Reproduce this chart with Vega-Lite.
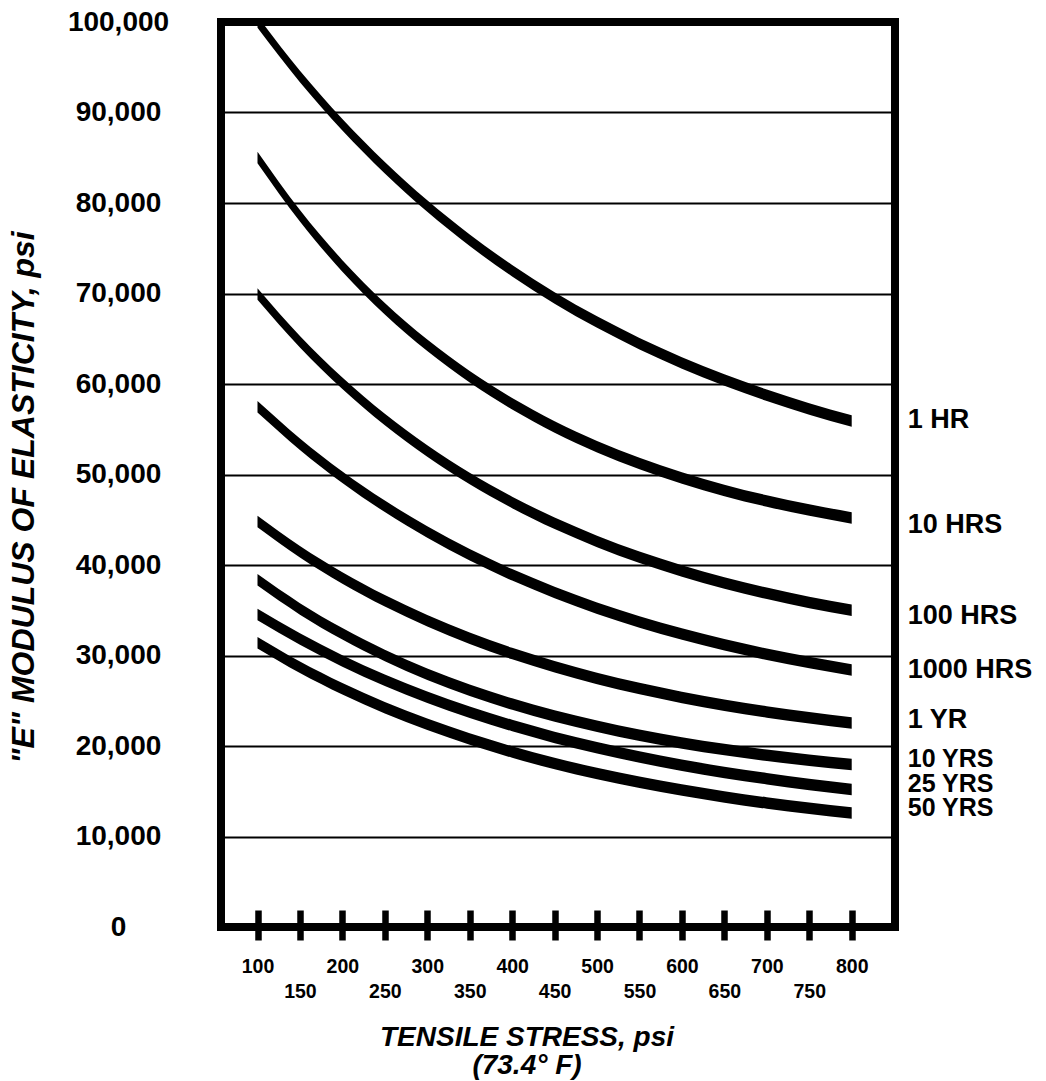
{
  "$schema": "https://vega.github.io/schema/vega-lite/v6.json",
  "width": 674,
  "height": 905,
  "autosize": {"type": "none"},
  "padding": {"left": 221, "top": 22, "right": 151, "bottom": 154},
  "background": "white",
  "config": {"view": {"stroke": "black", "strokeWidth": 8}, "font": "Liberation Sans"},
  "datasets": {
    "curves": [
      {"curve": "1 HR", "stress": 100, "E": 100000}, {"curve": "1 HR", "stress": 150, "E": 93980}, {"curve": "1 HR", "stress": 200, "E": 88650}, {"curve": "1 HR", "stress": 250, "E": 83900}, {"curve": "1 HR", "stress": 300, "E": 79660}, {"curve": "1 HR", "stress": 350, "E": 75880}, {"curve": "1 HR", "stress": 400, "E": 72520}, {"curve": "1 HR", "stress": 450, "E": 69510}, {"curve": "1 HR", "stress": 500, "E": 66840}, {"curve": "1 HR", "stress": 550, "E": 64450}, {"curve": "1 HR", "stress": 600, "E": 62330}, {"curve": "1 HR", "stress": 650, "E": 60440}, {"curve": "1 HR", "stress": 700, "E": 58750}, {"curve": "1 HR", "stress": 750, "E": 57250}, {"curve": "1 HR", "stress": 800, "E": 55900},
      {"curve": "10 HRS", "stress": 100, "E": 85040}, {"curve": "10 HRS", "stress": 150, "E": 78590}, {"curve": "10 HRS", "stress": 200, "E": 73050}, {"curve": "10 HRS", "stress": 250, "E": 68320}, {"curve": "10 HRS", "stress": 300, "E": 64270}, {"curve": "10 HRS", "stress": 350, "E": 60790}, {"curve": "10 HRS", "stress": 400, "E": 57810}, {"curve": "10 HRS", "stress": 450, "E": 55260}, {"curve": "10 HRS", "stress": 500, "E": 53080}, {"curve": "10 HRS", "stress": 550, "E": 51220}, {"curve": "10 HRS", "stress": 600, "E": 49620}, {"curve": "10 HRS", "stress": 650, "E": 48240}, {"curve": "10 HRS", "stress": 700, "E": 47070}, {"curve": "10 HRS", "stress": 750, "E": 46070}, {"curve": "10 HRS", "stress": 800, "E": 45200},
      {"curve": "100 HRS", "stress": 100, "E": 69950}, {"curve": "100 HRS", "stress": 150, "E": 64670}, {"curve": "100 HRS", "stress": 200, "E": 60080}, {"curve": "100 HRS", "stress": 250, "E": 56070}, {"curve": "100 HRS", "stress": 300, "E": 52590}, {"curve": "100 HRS", "stress": 350, "E": 49550}, {"curve": "100 HRS", "stress": 400, "E": 46910}, {"curve": "100 HRS", "stress": 450, "E": 44610}, {"curve": "100 HRS", "stress": 500, "E": 42610}, {"curve": "100 HRS", "stress": 550, "E": 40870}, {"curve": "100 HRS", "stress": 600, "E": 39350}, {"curve": "100 HRS", "stress": 650, "E": 38020}, {"curve": "100 HRS", "stress": 700, "E": 36870}, {"curve": "100 HRS", "stress": 750, "E": 35870}, {"curve": "100 HRS", "stress": 800, "E": 35000},
      {"curve": "1000 HRS", "stress": 100, "E": 57480}, {"curve": "1000 HRS", "stress": 150, "E": 53350}, {"curve": "1000 HRS", "stress": 200, "E": 49700}, {"curve": "1000 HRS", "stress": 250, "E": 46480}, {"curve": "1000 HRS", "stress": 300, "E": 43640}, {"curve": "1000 HRS", "stress": 350, "E": 41130}, {"curve": "1000 HRS", "stress": 400, "E": 38910}, {"curve": "1000 HRS", "stress": 450, "E": 36960}, {"curve": "1000 HRS", "stress": 500, "E": 35230}, {"curve": "1000 HRS", "stress": 550, "E": 33710}, {"curve": "1000 HRS", "stress": 600, "E": 32370}, {"curve": "1000 HRS", "stress": 650, "E": 31180}, {"curve": "1000 HRS", "stress": 700, "E": 30140}, {"curve": "1000 HRS", "stress": 750, "E": 29220}, {"curve": "1000 HRS", "stress": 800, "E": 28400},
      {"curve": "1 YR", "stress": 100, "E": 44800}, {"curve": "1 YR", "stress": 150, "E": 41470}, {"curve": "1 YR", "stress": 200, "E": 38570}, {"curve": "1 YR", "stress": 250, "E": 36040}, {"curve": "1 YR", "stress": 300, "E": 33830}, {"curve": "1 YR", "stress": 350, "E": 31900}, {"curve": "1 YR", "stress": 400, "E": 30210}, {"curve": "1 YR", "stress": 450, "E": 28750}, {"curve": "1 YR", "stress": 500, "E": 27460}, {"curve": "1 YR", "stress": 550, "E": 26340}, {"curve": "1 YR", "stress": 600, "E": 25360}, {"curve": "1 YR", "stress": 650, "E": 24510}, {"curve": "1 YR", "stress": 700, "E": 23770}, {"curve": "1 YR", "stress": 750, "E": 23120}, {"curve": "1 YR", "stress": 800, "E": 22550},
      {"curve": "10 YRS", "stress": 100, "E": 38360}, {"curve": "10 YRS", "stress": 150, "E": 35150}, {"curve": "10 YRS", "stress": 200, "E": 32390}, {"curve": "10 YRS", "stress": 250, "E": 30000}, {"curve": "10 YRS", "stress": 300, "E": 27940}, {"curve": "10 YRS", "stress": 350, "E": 26170}, {"curve": "10 YRS", "stress": 400, "E": 24630}, {"curve": "10 YRS", "stress": 450, "E": 23310}, {"curve": "10 YRS", "stress": 500, "E": 22170}, {"curve": "10 YRS", "stress": 550, "E": 21180}, {"curve": "10 YRS", "stress": 600, "E": 20330}, {"curve": "10 YRS", "stress": 650, "E": 19600}, {"curve": "10 YRS", "stress": 700, "E": 18970}, {"curve": "10 YRS", "stress": 750, "E": 18420}, {"curve": "10 YRS", "stress": 800, "E": 17950},
      {"curve": "25 YRS", "stress": 100, "E": 34520}, {"curve": "25 YRS", "stress": 150, "E": 31810}, {"curve": "25 YRS", "stress": 200, "E": 29400}, {"curve": "25 YRS", "stress": 250, "E": 27270}, {"curve": "25 YRS", "stress": 300, "E": 25390}, {"curve": "25 YRS", "stress": 350, "E": 23730}, {"curve": "25 YRS", "stress": 400, "E": 22260}, {"curve": "25 YRS", "stress": 450, "E": 20950}, {"curve": "25 YRS", "stress": 500, "E": 19800}, {"curve": "25 YRS", "stress": 550, "E": 18780}, {"curve": "25 YRS", "stress": 600, "E": 17880}, {"curve": "25 YRS", "stress": 650, "E": 17080}, {"curve": "25 YRS", "stress": 700, "E": 16380}, {"curve": "25 YRS", "stress": 750, "E": 15750}, {"curve": "25 YRS", "stress": 800, "E": 15200},
      {"curve": "50 YRS", "stress": 100, "E": 31420}, {"curve": "50 YRS", "stress": 150, "E": 28710}, {"curve": "50 YRS", "stress": 200, "E": 26330}, {"curve": "50 YRS", "stress": 250, "E": 24230}, {"curve": "50 YRS", "stress": 300, "E": 22390}, {"curve": "50 YRS", "stress": 350, "E": 20760}, {"curve": "50 YRS", "stress": 400, "E": 19330}, {"curve": "50 YRS", "stress": 450, "E": 18070}, {"curve": "50 YRS", "stress": 500, "E": 16960}, {"curve": "50 YRS", "stress": 550, "E": 15990}, {"curve": "50 YRS", "stress": 600, "E": 15130}, {"curve": "50 YRS", "stress": 650, "E": 14370}, {"curve": "50 YRS", "stress": 700, "E": 13700}, {"curve": "50 YRS", "stress": 750, "E": 13120}, {"curve": "50 YRS", "stress": 800, "E": 12600}
    ],
    "labels": [
      {"label": "1 HR", "stress": 866, "E": 56020, "group": "big"},
      {"label": "10 HRS", "stress": 866, "E": 44370, "group": "big"},
      {"label": "100 HRS", "stress": 866, "E": 34390, "group": "big"},
      {"label": "1000 HRS", "stress": 866, "E": 28400, "group": "big"},
      {"label": "1 YR", "stress": 866, "E": 22870, "group": "big"},
      {"label": "10 YRS", "stress": 866, "E": 18560, "group": "small"},
      {"label": "25 YRS", "stress": 866, "E": 15800, "group": "small"},
      {"label": "50 YRS", "stress": 866, "E": 13200, "group": "small"}
    ]
  },
  "encoding": {
    "x": {
      "field": "stress", "type": "quantitative",
      "scale": {"domain": [57, 851], "nice": false, "zero": false},
      "axis": {
        "values": [100, 150, 200, 250, 300, 350, 400, 450, 500, 550, 600, 650, 700, 750, 800],
        "format": "d",
        "title": ["TENSILE STRESS, psi", "(73.4° F)"],
        "offset": -17,
        "domain": false, "grid": false, "ticks": true,
        "tickSize": 30, "tickWidth": 6.5, "tickColor": "black", "tickCap": "butt",
        "labelFont": "Liberation Sans", "labelFontSize": 19.5, "labelFontWeight": "bold", "labelColor": "black",
        "labelBaseline": "alphabetic", "labelAlign": "center",
        "labelPadding": {"condition": {"test": "datum.value % 100 === 0", "value": 32}, "value": 57},
        "labelFlush": false, "labelOverlap": false, "labelBound": false,
        "titleFont": "Liberation Sans", "titleFontSize": 28, "titleFontWeight": "bold", "titleFontStyle": "italic", "titleColor": "black",
        "titleX": 305.5, "titleY": 135, "titleBaseline": "alphabetic", "titleAlign": "center", "titleLineHeight": 28
      }
    },
    "y": {
      "field": "E", "type": "quantitative",
      "scale": {"domain": [0, 100000], "nice": false, "zero": true},
      "axis": {
        "values": [0, 10000, 20000, 30000, 40000, 50000, 60000, 70000, 80000, 90000, 100000],
        "format": ",d",
        "title": "\"E\" MODULUS OF ELASTICITY, psi",
        "domain": false, "ticks": false, "tickSize": 0,
        "grid": true, "gridColor": "black", "gridWidth": 2, "gridOpacity": 1,
        "labelAlign": "center", "labelBaseline": "middle", "labelPadding": 103,
        "labelFont": "Liberation Sans", "labelFontSize": 28, "labelFontWeight": "bold", "labelColor": "black",
        "labelFlush": false, "labelOverlap": false, "labelBound": false,
        "titleFont": "Liberation Sans", "titleFontSize": 32, "titleFontWeight": "bold", "titleFontStyle": "italic", "titleColor": "black",
        "titleX": -188, "titleY": 475, "titleAngle": -90, "titleBaseline": "alphabetic", "titleAlign": "center"
      }
    }
  },
  "layer": [
    {
      "data": {"name": "curves"},
      "mark": {"type": "area", "color": "black", "interpolate": "monotone", "yOffset": -5.75, "y2Offset": 5.75, "clip": true},
      "encoding": {
        "y2": {"field": "E"},
        "detail": {"field": "curve"}
      }
    },
    {
      "data": {"name": "labels"},
      "transform": [{"filter": "datum.group === 'big'"}],
      "mark": {"type": "text", "align": "left", "baseline": "middle", "fontSize": 27, "fontWeight": "bold", "font": "Liberation Sans", "color": "black"},
      "encoding": {
        "text": {"field": "label"}
      }
    },
    {
      "data": {"name": "labels"},
      "transform": [{"filter": "datum.group === 'small'"}],
      "mark": {"type": "text", "align": "left", "baseline": "middle", "fontSize": 25, "fontWeight": "bold", "font": "Liberation Sans", "color": "black"},
      "encoding": {
        "text": {"field": "label"}
      }
    }
  ]
}
